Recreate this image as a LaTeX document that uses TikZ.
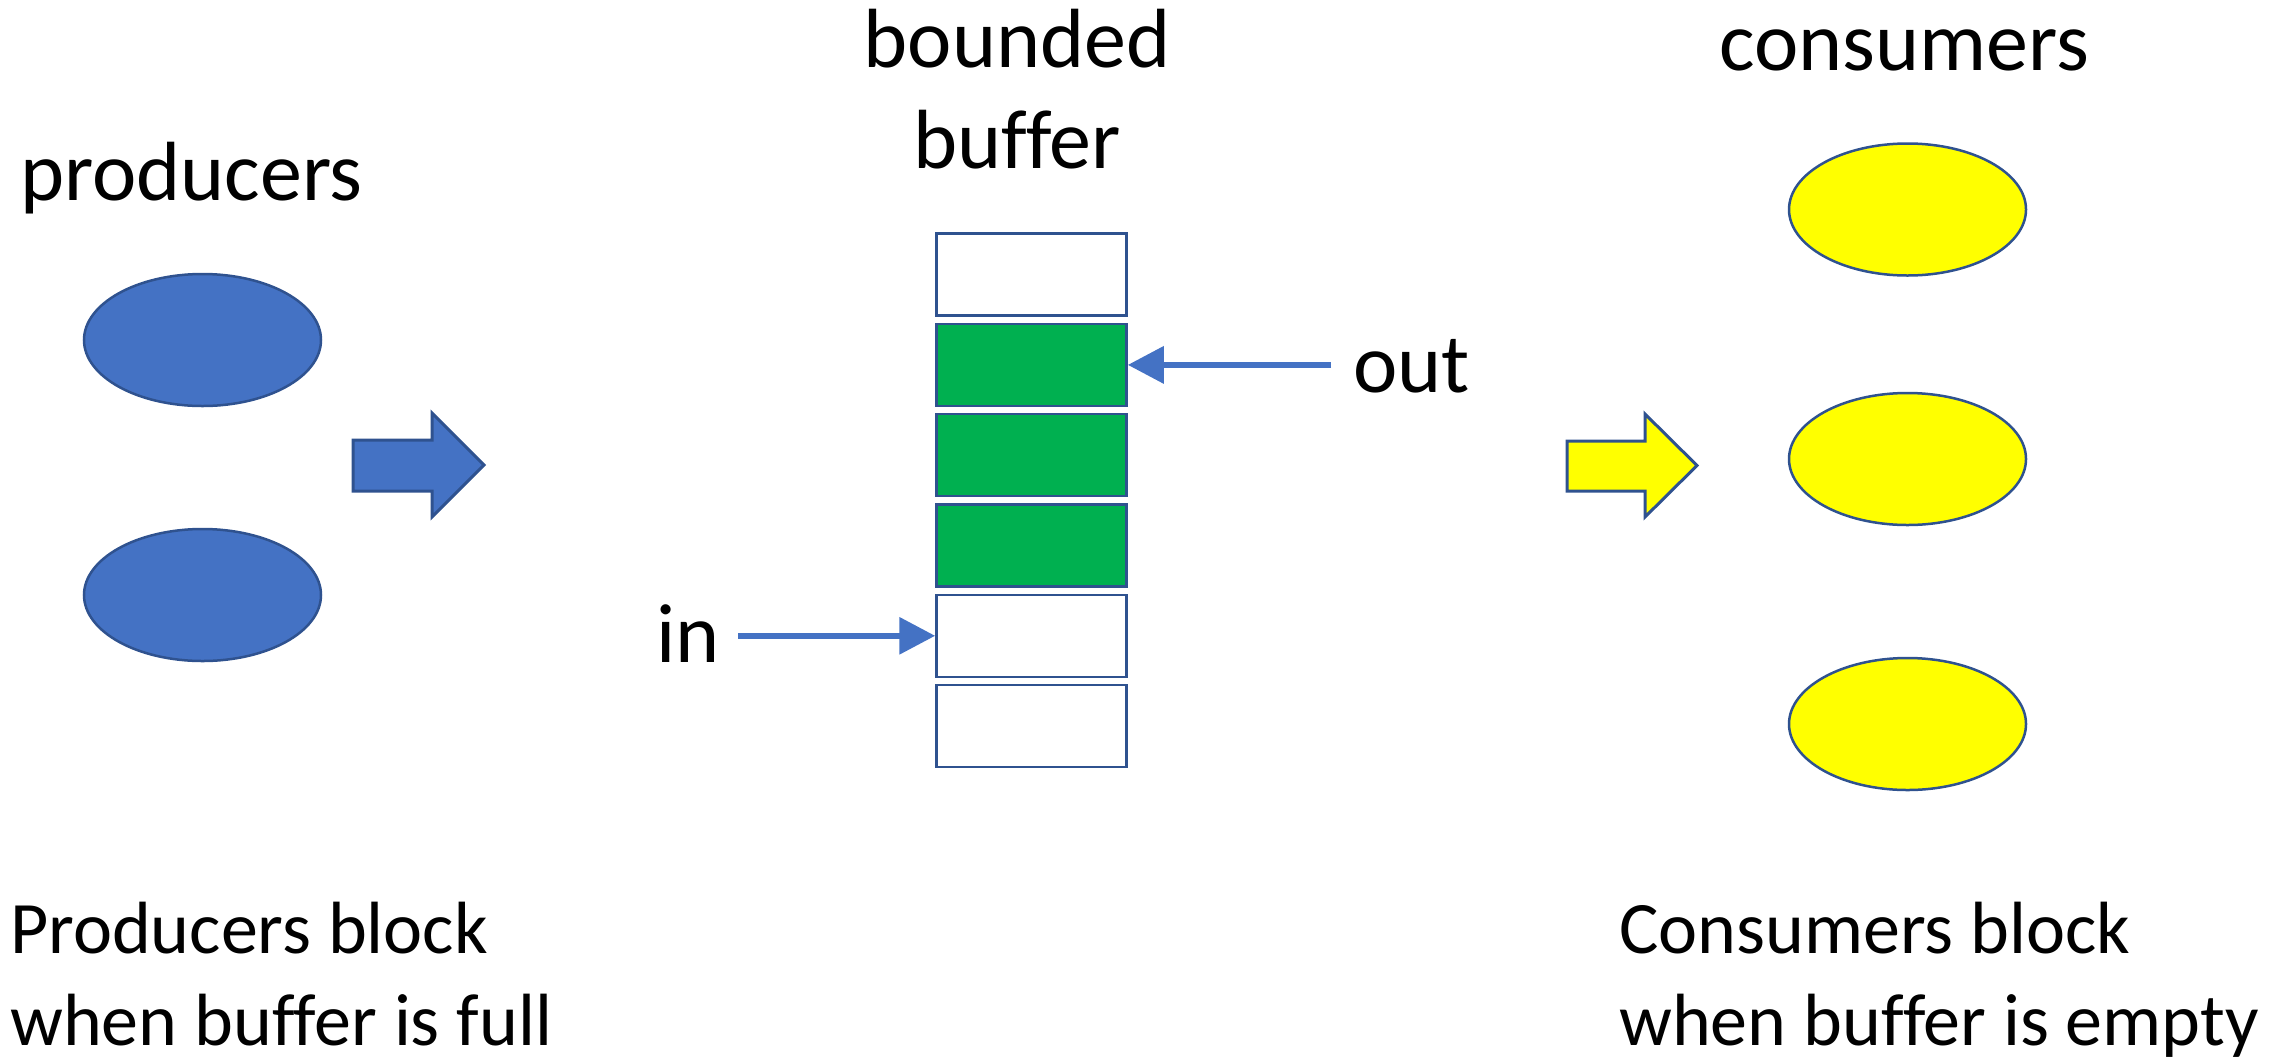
\documentclass[tikz,border=0pt]{standalone}
\usepackage{fontspec}
\setmainfont{Carlito}[Ligatures=NoCommon]
\usetikzlibrary{arrows.meta,shapes.geometric}
\definecolor{officeblue}{HTML}{4472C4}
\definecolor{officedark}{HTML}{2F528F}
\definecolor{slotgreen}{HTML}{00B050}
\definecolor{consyellow}{HTML}{FFFF00}
\begin{document}
\begin{tikzpicture}[x=1bp,y=-1bp,
  bigtext/.style={font=\fontsize{84bp}{101bp}\selectfont, inner sep=0pt},
  smalltext/.style={font=\fontsize{74bp}{92bp}\selectfont, inner sep=0pt, align=left},
  slot/.style={draw=officedark, line width=2.5bp, fill=white,
    minimum width=190bp, minimum height=82bp, inner sep=0pt},
  fullslot/.style={slot, fill=slotgreen},
  producer/.style={ellipse, draw=officedark, fill=officeblue, line width=2.5bp,
    minimum width=237bp, minimum height=132bp, inner sep=0pt},
  consumer/.style={producer, fill=consyellow},
  pointer/.style={draw=officeblue, line width=6.5bp,
    -{Triangle[length=36bp,width=36bp]}},
  blockarrow/.style={draw=officedark, line width=3bp, line join=miter},
]
\useasboundingbox (0,0) rectangle (2293,1056);

% headings (a multi-line node sits on the baseline of its last line)
\node[bigtext, anchor=base west] (prodlabel) at (20,200) {producers};
\node[bigtext, anchor=base, align=center] (buflabel) at (1017,168) {bounded\\buffer};
\node[bigtext, anchor=base west] (conslabel) at (1719,70) {consumers};

% producers
\node[producer] (p1) at (202.5,340) {};
\node[producer] (p2) at (202.5,595) {};

% consumers
\node[consumer] (k1) at (1907.5,209.5) {};
\node[consumer] (k2) at (1907.5,459) {};
\node[consumer] (k3) at (1907.5,724) {};

% block arrows into and out of the buffer
\draw[blockarrow, fill=officeblue] (353,440) -- (432,440) -- (432,413) -- (484,465)
  -- (432,517) -- (432,491) -- (353,491) -- cycle;
\draw[blockarrow, fill=consyellow] (1567,441) -- (1645,441) -- (1645,414) -- (1697,465.5)
  -- (1645,517) -- (1645,491) -- (1567,491) -- cycle;

% the bounded buffer: six slots, three of them filled
\node[slot]     (c1) at (1031.5,274.6) {};
\node[fullslot] (c2) at (1031.5,364.9) {};
\node[fullslot] (c3) at (1031.5,455.2) {};
\node[fullslot] (c4) at (1031.5,545.5) {};
\node[slot]     (c5) at (1031.5,635.8) {};
\node[slot]     (c6) at (1031.5,726.1) {};

% in / out pointers
\node[bigtext, anchor=base west] (outlabel) at (1353,392) {out};
\coordinate (outstart) at (1331,364.9);
\draw[pointer] (outstart) -- (c2.east);

\node[bigtext, anchor=base west] (inlabel) at (656,662) {in};
\coordinate (instart) at (738,635.8);
\draw[pointer] (instart) -- (c5.west);

% explanations
\node[smalltext, anchor=base west] (prodnote) at (10,1045) {Producers block\\when buffer is full};
\node[smalltext, anchor=base west] (consnote) at (1619,1045) {Consumers block\\when buffer is empty};
\end{tikzpicture}
\end{document}
